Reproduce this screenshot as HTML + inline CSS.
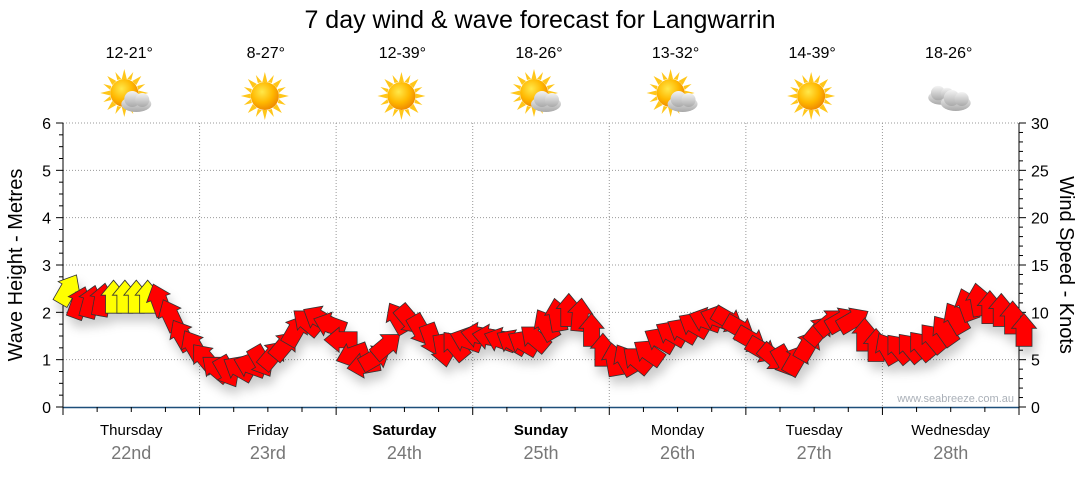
<!DOCTYPE html>
<html><head><meta charset="utf-8">
<style>
html,body{margin:0;padding:0;background:#fff;}
body{width:1080px;height:475px;overflow:hidden;font-family:"Liberation Sans",sans-serif;}
</style></head>
<body>
<svg id="chart" width="1080" height="475" viewBox="0 0 1080 475" xmlns="http://www.w3.org/2000/svg">
<defs>
  <radialGradient id="sunG" cx="40%" cy="35%" r="65%">
    <stop offset="0" stop-color="#ffe84a"/><stop offset="0.6" stop-color="#ffb800"/><stop offset="1" stop-color="#f08c00"/>
  </radialGradient>
  <linearGradient id="cloudG" x1="0" y1="0" x2="0" y2="1">
    <stop offset="0" stop-color="#f4f4f4"/><stop offset="1" stop-color="#a9a9a9"/>
  </linearGradient>
  <filter id="shadow" x="-50%" y="-50%" width="200%" height="200%">
    <feDropShadow dx="3" dy="8" stdDeviation="5" flood-color="#000" flood-opacity="0.2"/>
  </filter>
  <g id="sun">
    <g fill="#ffc61a">
      <polygon points="0,-24 2.5,-14 -2.5,-14"/><polygon points="0,24 2.5,14 -2.5,14"/>
      <polygon points="-24,0 -14,2.5 -14,-2.5"/><polygon points="24,0 14,2.5 14,-2.5"/>
      <polygon points="17,-17 8,-12 12,-8"/><polygon points="-17,-17 -8,-12 -12,-8"/>
      <polygon points="17,17 8,12 12,8"/><polygon points="-17,17 -8,12 -12,8"/>
      <polygon points="9,-21 7,-13 3,-14"/><polygon points="-9,-21 -7,-13 -3,-14"/>
      <polygon points="9,21 7,13 3,14"/><polygon points="-9,21 -7,13 -3,14"/>
      <polygon points="21,-9 13,-7 14,-3"/><polygon points="-21,-9 -13,-7 -14,-3"/>
      <polygon points="21,9 13,7 14,3"/><polygon points="-21,9 -13,7 -14,3"/>
    </g>
    <circle r="14" fill="url(#sunG)"/>
  </g>
  <g id="cloud">
    <ellipse cx="0" cy="4" rx="15" ry="8" fill="url(#cloudG)"/>
    <circle cx="-4" cy="-1" r="8" fill="url(#cloudG)"/>
    <circle cx="6" cy="0" r="7" fill="url(#cloudG)"/>
  </g>
</defs>
<text x="540" y="28" text-anchor="middle" font-size="25" fill="#000">7 day wind &amp; wave forecast for Langwarrin</text>
<g id="grid"></g>
<g id="axes"></g>
<g id="days"></g>
<g id="weather"></g>
<g id="arrows" filter="url(#shadow)"></g>
<text transform="translate(22,265) rotate(-90)" text-anchor="middle" font-size="20" fill="#000">Wave Height - Metres</text>
<text transform="translate(1060,265) rotate(90)" text-anchor="middle" font-size="20" fill="#000">Wind Speed - Knots</text>
<text x="1014" y="402" text-anchor="end" font-size="11" fill="#aab0b8">www.seabreeze.com.au</text>
</svg>
<script>
const dayNames = ["Thursday","Friday","Saturday","Sunday","Monday","Tuesday","Wednesday"];
const dayDates = ["22nd","23rd","24th","25th","26th","27th","28th"];
const boldDays = [false,false,true,true,false,false,false];
const temps = ["12-21°","8-27°","12-39°","18-26°","13-32°","14-39°","18-26°"];
const icons = ["partly","sun","sun","partly","partly","sun","cloud"];
const waveTicks = [0,1,2,3,4,5,6];
const windTicks = [0,5,10,15,20,25,30];
// wind speed in knots every 2 hours
const windSpeed = [12.4,11.0,11.1,11.3,11.6,11.6,11.6,11.6,11.3,9.7,7.6,6.5,
 5.2,4.1,3.7,4.1,4.4,4.8,5.5,6.5,8.1,9.0,9.4,8.7,
 7.1,5.5,4.4,5.2,6.5,9.4,9.2,8.1,7.1,6.0,6.5,7.1,
 7.6,7.4,7.1,6.9,6.8,7.3,8.7,9.7,10.2,9.7,8.1,6.0,
 5.0,5.0,5.0,5.8,7.1,7.8,8.1,8.7,9.2,9.4,9.2,8.3,
 7.1,6.0,5.2,4.8,5.0,6.5,8.1,9.0,9.2,9.2,7.6,6.5,
 6.2,6.2,6.3,6.5,7.3,8.1,9.4,10.8,11.3,10.5,10.2,9.4,8.1];
// arrow heading in degrees, clockwise from up
const windDir = [30,20,15,10,0,0,0,0,-20,-25,-30,-30,
 -40,-50,150,-60,-70,150,40,40,30,-50,-60,-70,
 -90,-110,-100,60,50,-30,140,150,160,170,-40,-70,
 -80,-80,-70,-60,-60,-50,-30,-10,0,5,0,0,
 -10,-30,-50,-55,-60,-60,-60,-60,-70,-70,120,120,
 120,120,130,150,30,30,40,50,60,60,0,0,
 -30,-40,-40,-40,-40,-35,-30,-20,-10,0,0,0,0];
const yellowThreshold = 11.5;

const NS="http://www.w3.org/2000/svg";
const X0=63, X1=1019, Y0=407, Y1=123;
const dayW=(X1-X0)/7;
const yWave=v=>Y0-(v/6)*(Y0-Y1);
const yWind=k=>Y0-(k/30)*(Y0-Y1);
const xTime=h=>X0+5+(h/24)*dayW;
function mk(tag,attrs,parent){const e=document.createElementNS(NS,tag);for(const k in attrs)e.setAttribute(k,attrs[k]);parent.appendChild(e);return e;}
const grid=document.getElementById('grid'),axes=document.getElementById('axes'),days=document.getElementById('days'),weather=document.getElementById('weather'),arrows=document.getElementById('arrows');

waveTicks.forEach(v=>{
  if(v>0){const l=mk('line',{x1:X0,x2:X1,y1:yWave(v),y2:yWave(v),stroke:'#999','stroke-dasharray':'1,2'},grid);
  
  }
  const t=mk('text',{x:X0-12,y:yWave(v)+6,'text-anchor':'end','font-size':16,fill:'#000'},axes);
  t.textContent=v;
  
  
});
for(let v=0;v<=6.001;v+=0.25){const len=(Math.abs(v-Math.round(v))<0.01)?7:4;mk('line',{x1:X0-len,x2:X0,y1:yWave(v),y2:yWave(v),stroke:'#000'},axes);}
for(let k=0;k<=30;k++){const len=(k%5===0)?7:4;mk('line',{x1:X1,x2:X1+len,y1:yWind(k),y2:yWind(k),stroke:'#000'},axes);}
windTicks.forEach(k=>{
  const t=mk('text',{x:X1+12,y:yWind(k)+6,'font-size':16,fill:'#000'},axes);
  t.textContent=k;
  
  
});
mk('line',{x1:X0,x2:X0,y1:Y1,y2:Y0,stroke:'#000'},axes);
mk('line',{x1:X1,x2:X1,y1:Y1,y2:Y0,stroke:'#000'},axes);
mk('line',{x1:X0,x2:X1,y1:Y0+0.5,y2:Y0+0.5,stroke:'#1d4f7a','stroke-width':1.5},axes);
for(let i=0;i<=28;i++){const x=X0+i*dayW/4;mk('line',{x1:x,x2:x,y1:Y0,y2:Y0+(i%4===0?8:5),stroke:'#000'},axes);}

dayNames.forEach((d,i)=>{
  const cx=X0+(i+0.5)*dayW;
  if(i>0){const l=mk('line',{x1:X0+i*dayW,x2:X0+i*dayW,y1:Y1,y2:Y0,stroke:'#999','stroke-dasharray':'1,2'},grid);
  
  }
  const t=mk('text',{x:cx,y:435,'text-anchor':'middle','font-size':15,fill:'#000','font-weight':boldDays[i]?'bold':'normal'},days);
  t.textContent=d;
  
  
  const t2=mk('text',{x:cx,y:459,'text-anchor':'middle','font-size':18,fill:'#777'},days);
  t2.textContent=dayDates[i];
  
  
  const t3=mk('text',{x:cx-2,y:58,'text-anchor':'middle','font-size':16,fill:'#000'},weather);
  t3.textContent=temps[i];
  
  
  const g=mk('g',{transform:`translate(${cx-3},96)`},weather);
  
  
  if(icons[i]==='sun'){mk('use',{href:'#sun'},g);}
  else if(icons[i]==='partly'){mk('use',{href:'#sun',transform:'translate(-4,-3)'},g);mk('use',{href:'#cloud',transform:'translate(8,4)'},g);}
  else {mk('use',{href:'#cloud',transform:'translate(-6,-2) scale(0.9)'},g);mk('use',{href:'#cloud',transform:'translate(8,3)'},g);}
});

windSpeed.forEach((k,i)=>{
  const x=xTime(i*2),y=yWind(k);
  const p=mk('polygon',{points:'0,-17 12.5,-2 8,-2 8,16 -8,16 -8,-2 -12.5,-2',
    transform:`translate(${x},${y}) rotate(${windDir[i]})`,
    fill:k>=yellowThreshold?'#ffff00':'#ff0000',stroke:'#333','stroke-width':0.8},arrows);
  
  
});
</script>
</body></html>
